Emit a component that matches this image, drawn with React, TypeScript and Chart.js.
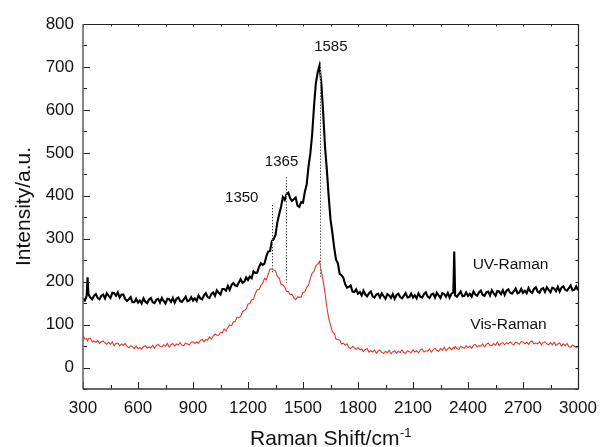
import React, { useEffect, useRef } from "react";
import { Chart, registerables } from "chart.js";

Chart.register(...registerables);

// Raman shift (cm^-1)
const ramanShift = [
  300, 310, 320, 325, 330, 340, 350, 360, 370, 380, 390,
  400, 410, 420, 430, 440, 450, 460, 470, 480, 490,
  500, 510, 520, 530, 540, 550, 560, 570, 580, 590,
  600, 610, 620, 630, 640, 650, 660, 670, 680, 690,
  700, 710, 720, 730, 740, 750, 760, 770, 780, 790,
  800, 810, 820, 830, 840, 850, 860, 870, 880, 890,
  900, 910, 920, 930, 940, 950, 960, 970, 980, 990,
  1000, 1010, 1020, 1030, 1040, 1050, 1060, 1070, 1080, 1090,
  1100, 1110, 1120, 1130, 1140, 1150, 1160, 1170, 1180, 1190,
  1200, 1210, 1220, 1230, 1240, 1250, 1260, 1270, 1280, 1290,
  1300, 1310, 1320, 1330, 1340, 1350, 1360, 1370, 1380, 1390,
  1400, 1410, 1420, 1430, 1440, 1450, 1460, 1470, 1480, 1490,
  1500, 1510, 1520, 1530, 1540, 1550, 1560, 1570, 1580, 1590,
  1600, 1610, 1620, 1630, 1640, 1650, 1660, 1670, 1680, 1690,
  1700, 1710, 1720, 1730, 1740, 1750, 1760, 1770, 1780, 1790,
  1800, 1810, 1820, 1830, 1840, 1850, 1860, 1870, 1880, 1890,
  1900, 1910, 1920, 1930, 1940, 1950, 1960, 1970, 1980, 1990,
  2000, 2010, 2020, 2030, 2040, 2050, 2060, 2070, 2080, 2090,
  2100, 2110, 2120, 2130, 2140, 2150, 2160, 2170, 2180, 2190,
  2200, 2210, 2220, 2230, 2240, 2250, 2260, 2270, 2280, 2290,
  2300, 2310, 2320, 2325, 2330, 2340, 2350, 2360, 2370, 2380, 2390,
  2400, 2410, 2420, 2430, 2440, 2450, 2460, 2470, 2480, 2490,
  2500, 2510, 2520, 2530, 2540, 2550, 2560, 2570, 2580, 2590,
  2600, 2610, 2620, 2630, 2640, 2650, 2660, 2670, 2680, 2690,
  2700, 2710, 2720, 2730, 2740, 2750, 2760, 2770, 2780, 2790,
  2800, 2810, 2820, 2830, 2840, 2850, 2860, 2870, 2880, 2890,
  2900, 2910, 2920, 2930, 2940, 2950, 2960, 2970, 2980, 2990,
  3000,
];

// UV-Raman intensity (a.u.)
const uvRaman = [
  161, 156, 167, 210, 170, 163, 159, 167, 171, 162, 159,
  167, 170, 161, 173, 167, 162, 174, 173, 167, 175,
  163, 170, 170, 160, 155, 159, 164, 152, 152, 160,
  151, 156, 149, 161, 153, 150, 158, 162, 152, 150,
  158, 160, 151, 162, 155, 149, 160, 159, 153, 162,
  151, 160, 163, 155, 153, 159, 165, 154, 156, 164,
  156, 161, 155, 168, 161, 159, 168, 173, 164, 162,
  171, 175, 167, 180, 174, 170, 183, 183, 179, 190,
  181, 192, 197, 191, 190, 198, 206, 197, 200, 210,
  204, 212, 208, 224, 220, 221, 234, 243, 239, 242,
  259, 270, 271, 294, 299, 309, 338, 357, 374, 397,
  390, 404, 407, 394, 388, 392, 396, 377, 374, 385,
  384, 409, 426, 468, 498, 543, 608, 662, 687, 703,
  662, 594, 515, 461, 399, 345, 314, 280, 251, 243,
  218, 215, 209, 194, 186, 188, 191, 177, 176, 182,
  172, 176, 168, 179, 170, 166, 173, 177, 166, 163,
  170, 172, 163, 173, 166, 160, 171, 168, 162, 171,
  160, 169, 172, 164, 161, 167, 173, 163, 164, 172,
  163, 168, 161, 173, 165, 163, 171, 175, 165, 162,
  170, 172, 163, 174, 168, 162, 173, 171, 165, 174,
  163, 172, 175, 270, 168, 165, 171, 177, 166, 167, 175,
  167, 172, 165, 177, 170, 167, 175, 179, 169, 167,
  175, 177, 168, 180, 173, 167, 178, 177, 171, 180,
  169, 179, 182, 174, 172, 178, 184, 173, 175, 183,
  174, 179, 173, 185, 177, 174, 183, 187, 177, 174,
  183, 185, 176, 187, 181, 175, 186, 184, 178, 188,
  177, 186, 189, 181, 179, 185, 191, 180, 181, 189,
  180,
];

// Vis-Raman intensity (a.u.)
const visRaman = [
  75, 66, 67, 62, 67, 68, 60, 62, 59, 63, 56,
  60, 62, 57, 54, 59, 54, 60, 51, 56, 57,
  51, 55, 52, 56, 49, 46, 51, 48, 44, 50,
  44, 47, 43, 49, 51, 45, 48, 46, 52, 45,
  51, 54, 49, 48, 53, 49, 56, 48, 53, 56,
  50, 55, 53, 58, 52, 51, 57, 55, 53, 59,
  60, 56, 60, 56, 63, 66, 60, 65, 64, 71,
  66, 73, 78, 75, 75, 82, 81, 90, 85, 93,
  99, 97, 106, 107, 117, 116, 119, 130, 133, 136,
  148, 149, 158, 159, 172, 181, 181, 191, 196, 208,
  204, 217, 229, 230, 227, 225, 212, 209, 194, 193,
  188, 177, 177, 170, 171, 162, 158, 164, 164, 164,
  175, 176, 187, 191, 207, 220, 224, 237, 241, 247,
  224, 201, 174, 141, 115, 100, 83, 80, 66, 66,
  64, 55, 57, 52, 55, 47, 44, 49, 46, 42,
  47, 41, 43, 37, 42, 44, 36, 39, 36, 41,
  33, 38, 41, 35, 33, 38, 34, 40, 32, 37,
  39, 33, 38, 35, 41, 35, 33, 39, 37, 35,
  41, 36, 39, 34, 41, 43, 36, 39, 38, 43,
  36, 41, 45, 40, 38, 44, 40, 47, 39, 44,
  47, 41, 47, 44, 49, 44, 42, 49, 47, 45, 51,
  46, 50, 45, 52, 54, 48, 51, 50, 55, 48,
  54, 57, 52, 51, 56, 52, 59, 51, 56, 58,
  53, 58, 55, 60, 55, 53, 59, 57, 54, 60,
  60, 55, 59, 54, 60, 62, 55, 57, 55, 60,
  53, 58, 60, 55, 53, 58, 53, 59, 51, 55,
  57, 50, 55, 51, 56, 49, 47, 52, 50, 46,
  49,
];

const seriesNames = ["UV-Raman", "Vis-Raman"];
const seriesLabelShift = [2632, 2621];
const seriesLabelIntensity = [239, 100];

const peakLabels = ["1350", "1365", "1585"];
const peakLineShift = [1330, 1405, 1590];
const peakLineTop = [378, 443, 710];
const peakLineBottom = [220, 197, 212];
const peakLabelShift = [1166, 1383, 1652];
const peakLabelIntensity = [394, 479, 746];

const xTitle = "Raman Shift/cm";
const xTitleSup = "-1";
const yTitle = "Intensity/a.u.";

const FONT = "'Liberation Sans', Arial, Helvetica, sans-serif";

const decorPlugin = {
  id: "decor",
  beforeDraw(chart: any) {
    const { ctx, width, height } = chart;
    ctx.save();
    ctx.fillStyle = "#ffffff";
    ctx.fillRect(0, 0, width, height);
    ctx.restore();
  },
  afterDatasetsDraw(chart: any) {
    const { ctx, chartArea } = chart;
    const { left, right, top, bottom } = chartArea;
    const xs = chart.scales.x;
    const ys = chart.scales.y;

    // dotted peak lines
    ctx.save();
    ctx.globalCompositeOperation = "difference";
    ctx.strokeStyle = "#ffffff";
    ctx.lineWidth = 1;
    ctx.setLineDash([1, 2]);
    for (let i = 0; i < peakLineShift.length; i++) {
      const px = Math.round(xs.getPixelForValue(peakLineShift[i])) + 0.5;
      ctx.beginPath();
      ctx.moveTo(px, ys.getPixelForValue(peakLineTop[i]));
      ctx.lineTo(px, ys.getPixelForValue(peakLineBottom[i]));
      ctx.stroke();
    }
    ctx.restore();

    ctx.save();
    // ticks (inward)
    ctx.strokeStyle = "#222";
    ctx.lineWidth = 1;
    ctx.beginPath();
    for (let v = 300; v <= 3000; v += 150) {
      const px = Math.round(xs.getPixelForValue(v)) + 0.5;
      const major = v % 300 === 0;
      ctx.moveTo(px, bottom);
      ctx.lineTo(px, bottom - (major ? 7 : 4));
      ctx.moveTo(px, top);
      ctx.lineTo(px, top + 2.5);
    }
    for (let v = -50; v <= 800; v += 50) {
      const py = Math.round(ys.getPixelForValue(v)) + 0.5;
      const major = v % 100 === 0;
      ctx.moveTo(left, py);
      ctx.lineTo(left + (major ? 7 : 4), py);
      ctx.moveTo(right, py);
      ctx.lineTo(right - 2.5, py);
    }
    ctx.stroke();

    // frame
    ctx.lineWidth = 1.2;
    ctx.strokeStyle = "#222";
    ctx.beginPath();
    ctx.moveTo(left, top + 0.5);
    ctx.lineTo(right, top + 0.5);
    ctx.moveTo(right + 0.5, top);
    ctx.lineTo(right + 0.5, bottom);
    ctx.stroke();
    ctx.strokeStyle = "#666";
    ctx.lineWidth = 1.6;
    ctx.beginPath();
    ctx.moveTo(left, top);
    ctx.lineTo(left, bottom);
    ctx.stroke();
    ctx.strokeStyle = "#333";
    ctx.beginPath();
    ctx.moveTo(left, bottom);
    ctx.lineTo(right + 1, bottom);
    ctx.stroke();

    // peak labels
    ctx.fillStyle = "#111";
    ctx.font = `15px ${FONT}`;
    ctx.textAlign = "center";
    ctx.textBaseline = "middle";
    for (let i = 0; i < peakLabels.length; i++) {
      ctx.fillText(
        peakLabels[i],
        xs.getPixelForValue(peakLabelShift[i]),
        ys.getPixelForValue(peakLabelIntensity[i])
      );
    }
    // series labels
    ctx.font = `15.5px ${FONT}`;
    for (let i = 0; i < seriesNames.length; i++) {
      ctx.fillText(
        seriesNames[i],
        xs.getPixelForValue(seriesLabelShift[i]),
        ys.getPixelForValue(seriesLabelIntensity[i])
      );
    }

    // x title with superscript
    ctx.textBaseline = "alphabetic";
    ctx.textAlign = "left";
    ctx.font = `21px ${FONT}`;
    const wMain = ctx.measureText(xTitle).width;
    ctx.font = `13px ${FONT}`;
    const wSup = ctx.measureText(xTitleSup).width;
    const cx = (left + right) / 2;
    const startX = cx - (wMain + wSup) / 2;
    ctx.font = `21px ${FONT}`;
    ctx.fillText(xTitle, startX, 445);
    ctx.font = `13px ${FONT}`;
    ctx.fillText(xTitleSup, startX + wMain + 0.5, 437);

    // y title
    ctx.save();
    ctx.translate(29.5, (top + bottom) / 2);
    ctx.rotate(-Math.PI / 2);
    ctx.textAlign = "center";
    ctx.font = `21px ${FONT}`;
    ctx.fillText(yTitle, 0, 0);
    ctx.restore();

    ctx.restore();
  },
};

export default function App() {
  const canvasRef = useRef<HTMLCanvasElement | null>(null);

  useEffect(() => {
    if (!canvasRef.current) return;
    const chart = new Chart(canvasRef.current, {
      type: "line",
      data: {
        datasets: [
          {
            label: seriesNames[0],
            data: ramanShift.map((x, i) => ({ x, y: uvRaman[i] })),
            borderColor: "#000000",
            borderWidth: 2.1,
            pointRadius: 0,
            tension: 0,
          },
          {
            label: seriesNames[1],
            data: ramanShift.map((x, i) => ({ x, y: visRaman[i] })),
            borderColor: "#e4382b",
            borderWidth: 1.1,
            pointRadius: 0,
            tension: 0,
          },
        ],
      },
      options: {
        animation: false,
        responsive: false,
        maintainAspectRatio: false,
        layout: { padding: { top: 24, right: 22, left: 0, bottom: 0 } },
        plugins: { legend: { display: false }, tooltip: { enabled: false } },
        scales: {
          x: {
            type: "linear",
            min: 300,
            max: 3000,
            afterFit: (s: any) => {
              s.height = 58;
              s.paddingLeft = 0;
              s.paddingRight = 0;
            },
            grid: { display: false, drawTicks: false },
            border: { display: false },
            ticks: {
              stepSize: 300,
              padding: 9,
              autoSkip: false,
              maxRotation: 0,
              color: "#111",
              font: { family: FONT, size: 17 },
              callback: (v: any) => String(v),
            },
          },
          y: {
            type: "linear",
            min: -50,
            max: 800,
            afterFit: (s: any) => {
              s.width = 83;
              s.paddingTop = 0;
              s.paddingBottom = 0;
            },
            grid: { display: false, drawTicks: false },
            border: { display: false },
            ticks: {
              stepSize: 50,
              padding: 9,
              autoSkip: false,
              color: "#111",
              font: { family: FONT, size: 17 },
              callback: (v: any) => (Number(v) % 100 === 0 ? String(v) : ""),
            },
          },
        },
      },
      plugins: [decorPlugin],
    });
    return () => chart.destroy();
  }, []);

  return (
    <div style={{ position: "fixed", left: 0, top: 0, width: 600, height: 447, background: "#fff" }}>
      <canvas ref={canvasRef} width={600} height={447} style={{ display: "block" }} />
    </div>
  );
}
